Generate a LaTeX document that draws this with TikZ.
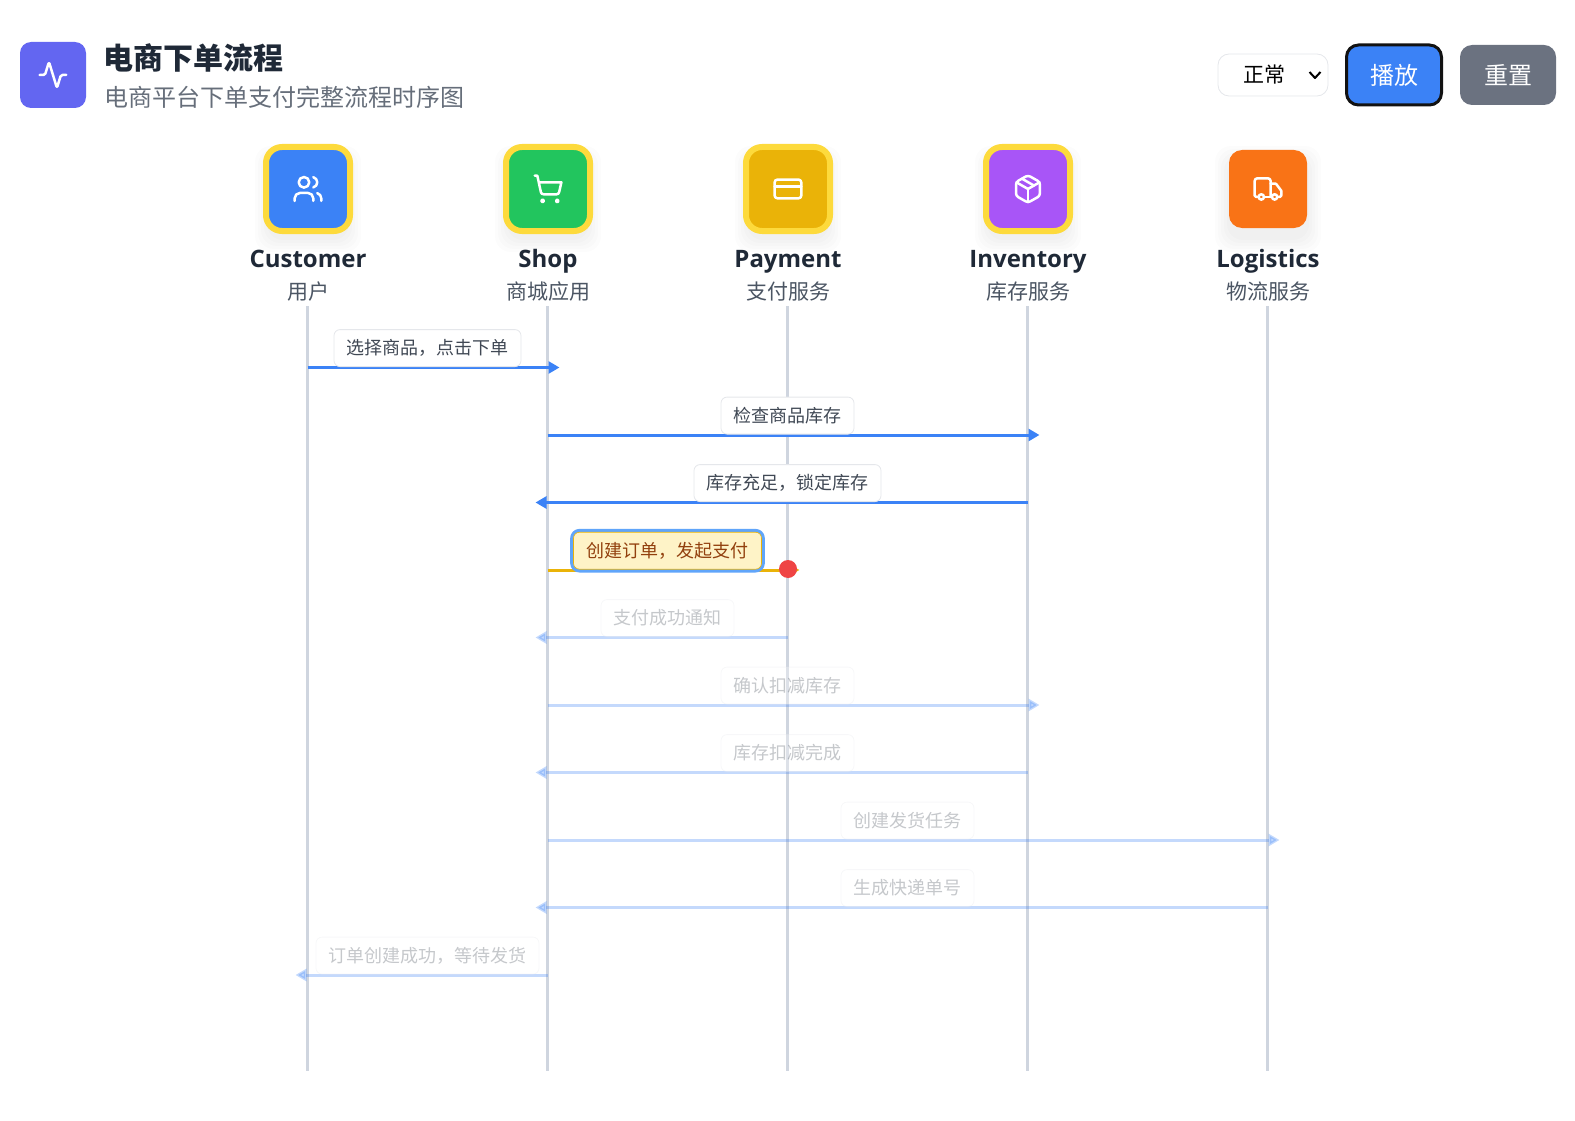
\documentclass[tikz,border=0pt]{standalone}
\usepackage{fontspec}
\setmainfont{Noto Sans CJK SC}
\newfontfamily\namefont{Open Sans}
\usetikzlibrary{arrows.meta}
\definecolor{inkdark}{HTML}{1F2937}
\definecolor{inkgray}{HTML}{4B5563}
\definecolor{ringyellow}{HTML}{FDDA3C}
\definecolor{flowblue}{HTML}{3B82F6}
\definecolor{flowyellow}{HTML}{EAB308}
\definecolor{lifegray}{HTML}{CFD5DF}
\definecolor{edgegray}{HTML}{E5E7EB}
\definecolor{hotfill}{HTML}{FEF3C7}
\definecolor{hottext}{HTML}{92400E}
\definecolor{hotblue}{HTML}{60A5FA}
\definecolor{shopgreen}{HTML}{22C55E}
\definecolor{stockpurple}{HTML}{A855F7}
\definecolor{shiporange}{HTML}{F97316}
\definecolor{dotred}{HTML}{EF4444}
\definecolor{logoviolet}{HTML}{6366F1}
\definecolor{resetgray}{HTML}{6B7280}
\tikzset{
	lifeline/.style={draw=lifegray,line width=3pt},
	actorbox/.style={minimum size=84pt,inner sep=0pt,rounded corners=16pt,draw=ringyellow,line width=6pt},
	actorplain/.style={minimum size=78pt,inner sep=0pt,rounded corners=13pt},
	glyph/.style={draw=white,line width=2.5pt,line cap=round,line join=round},
	msglive/.style={draw=flowblue,line width=3pt,shorten >=-12pt,-{Triangle[length=11pt,width=12pt]}},
	msgfade/.style={msglive,opacity=.3},
	msghot/.style={msglive,draw=flowyellow},
	boxlive/.style={above=.5pt,fill=white,draw=edgegray,line width=.8pt,rounded corners=6pt,minimum height=37pt,inner xsep=12.5pt,inner ysep=0pt,text=inkgray!85!black,font=\fontsize{18}{22}\selectfont},
	boxfade/.style={boxlive,opacity=.3},
	boxhot/.style={boxlive,above=0pt,inner xsep=13pt,fill=hotfill,draw=flowyellow,line width=.6pt,text=hottext,preaction={draw=hotblue,line width=6.6pt}},
}
\begin{document}
\begin{tikzpicture}[x=1pt,y=-1pt,line join=round]
	\useasboundingbox (0,0) rectangle (1575,1121);
	\foreach \x in {308,548,788,1028,1268}{
		\foreach \s in {2,5,8,11,14}{
			\fill[black,opacity=.012,rounded corners=16pt] (\x-39-\s,160-\s) rectangle (\x+39+\s,238+\s);
		}
	}
	\node[actorbox,fill=flowblue] (icon1) at (308,189) {};
	\node[actorbox,fill=shopgreen] (icon2) at (548,189) {};
	\node[actorbox,fill=flowyellow] (icon3) at (788,189) {};
	\node[actorbox,fill=stockpurple] (icon4) at (1028,189) {};
	\node[actorplain,fill=shiporange] (icon5) at (1268,189) {};
	\foreach \i/\x/\actor/\role in {1/308/Customer/用户,2/548/Shop/商城应用,3/788/Payment/支付服务,4/1028/Inventory/库存服务,5/1268/Logistics/物流服务}{
		\node[anchor=base,inkdark,font=\namefont\bfseries\fontsize{24}{30}\selectfont] (name\i) at (\x,267) {\actor};
		\node[inkgray,font=\fontsize{21}{25}\selectfont] (role\i) at (\x,292) {\role};
		\coordinate (top\i) at (\x-.5,306);
		\coordinate (end\i) at (\x-.5,1071);
		\draw[lifeline] (top\i) -- (end\i);
	}
	\foreach \n/\a/\b/\y/\msgtext/\kind in {
		1/1/2/367.5/选择商品，点击下单/live,
		2/2/4/435/检查商品库存/live,
		3/4/2/502.5/库存充足，锁定库存/live,
		4/2/3/570/创建订单，发起支付/hot,
		5/3/2/637.5/支付成功通知/fade,
		6/2/4/705/确认扣减库存/fade,
		7/4/2/772.5/库存扣减完成/fade,
		8/2/5/840/创建发货任务/fade,
		9/5/2/907.5/生成快递单号/fade,
		10/2/1/975/订单创建成功，等待发货/fade}{
		\coordinate (from\n) at (top\a |- 0,\y);
		\coordinate (to\n) at (top\b |- 0,\y);
		\draw[msg\kind] (from\n) -- (to\n) node[midway,box\kind] (label\n) {\msgtext};
	}
	\node[circle,fill=dotred,minimum size=18pt,inner sep=0pt] (pulse) at (788,569) {};
	\node[fill=logoviolet,minimum size=66pt,inner sep=0pt,rounded corners=11pt] (logo) at (53,75) {};
	\node[anchor=west,inner sep=0pt,inkdark,font=\bfseries\fontsize{30}{36}\selectfont] (title) at (103.5,58) {电商下单流程};
	\node[anchor=west,inner sep=0pt,inkgray!85,font=\fontsize{24}{29}\selectfont] (subtitle) at (104,97) {电商平台下单支付完整流程时序图};
	\node[draw=edgegray,fill=white,line width=.8pt,rounded corners=11pt,minimum width=110pt,minimum height=42pt,inner sep=0pt] (speed) at (1273,75) {};
	\node[black,font=\fontsize{21}{25}\selectfont] (speedtext) at (1264,75) {正常};
	\draw[black,line width=2pt] (1309.5,72) -- (1315,78) -- (1320.5,72);
	\node[fill=flowblue,draw=black!93,line width=3pt,rounded corners=12pt,minimum width=95pt,minimum height=60pt,inner sep=0pt,text=white,font=\fontsize{24}{29}\selectfont] (play) at (1394,75) {播放};
	\node[fill=resetgray,rounded corners=12pt,minimum width=96pt,minimum height=60pt,inner sep=0pt,text=white,font=\fontsize{24}{29}\selectfont] (reset) at (1508,75) {重置};
	\begin{scope}[shift={(37,59)},x=1.33pt,y=-1.33pt]
		\draw[glyph,rounded corners=1.5pt] (22,12) -- (18,12) -- (15,21.8) -- (9,2.2) -- (6,12) -- (2,12);
	\end{scope}
	\begin{scope}[shift={(292,173)},x=1.33pt,y=-1.33pt]
		\draw[glyph] (9,7) circle (5.3pt);
		\draw[glyph] (2,21) -- (2,19) .. controls (2,16.8) and (3.8,15) .. (6,15) -- (12,15) .. controls (14.2,15) and (16,16.8) .. (16,19) -- (16,21);
		\draw[glyph] (16,3.13) .. controls (17.8,3.6) and (19,5.2) .. (19,7) .. controls (19,8.8) and (17.8,10.4) .. (16,10.87);
		\draw[glyph] (22,21) -- (22,19) .. controls (22,17.2) and (20.8,15.6) .. (19,15.13);
	\end{scope}
	\begin{scope}[shift={(532,173)},x=1.33pt,y=-1.33pt]
		\draw[glyph] (2,2) -- (4,2) -- (6.7,14.5) .. controls (6.9,15.4) and (7.7,16) .. (8.7,16) -- (18.5,16) .. controls (19.4,16) and (20.2,15.4) .. (20.4,14.4) -- (22.1,7) -- (5.1,7);
		\draw[glyph] (8,21) circle (1.33pt);
		\draw[glyph] (19,21) circle (1.33pt);
	\end{scope}
	\begin{scope}[shift={(772,173)},x=1.33pt,y=-1.33pt]
		\draw[glyph,rounded corners=2.6pt] (2,5) rectangle (22,19);
		\draw[glyph] (2,10) -- (22,10);
	\end{scope}
	\begin{scope}[shift={(1012,173)},x=1.33pt,y=-1.33pt]
		\draw[glyph,rounded corners=2.6pt] (12,1.7) -- (21,6.8) -- (21,17.2) -- (12,22.3) -- (3,17.2) -- (3,6.8) -- cycle;
		\draw[glyph] (12,22) -- (12,12);
		\draw[glyph] (3.3,7) -- (12,12) -- (20.7,7);
		\draw[glyph] (7.5,4.27) -- (16.5,9.42);
	\end{scope}
	\begin{scope}[shift={(1252,173)},x=1.33pt,y=-1.33pt]
		\draw[glyph] (14,18) -- (14,6) .. controls (14,4.9) and (13.1,4) .. (12,4) -- (4,4) .. controls (2.9,4) and (2,4.9) .. (2,6) -- (2,17) .. controls (2,17.6) and (2.4,18) .. (3,18) -- (5,18);
		\draw[glyph] (15,18) -- (9,18);
		\draw[glyph] (19,18) -- (21,18) .. controls (21.6,18) and (22,17.6) .. (22,17) -- (22,13.35) -- (18.3,8.4) .. controls (18.1,8.1) and (17.8,8) .. (17.5,8) -- (14,8);
		\draw[glyph] (17,18) circle (2.66pt);
		\draw[glyph] (7,18) circle (2.66pt);
	\end{scope}
\end{tikzpicture}
\end{document}
